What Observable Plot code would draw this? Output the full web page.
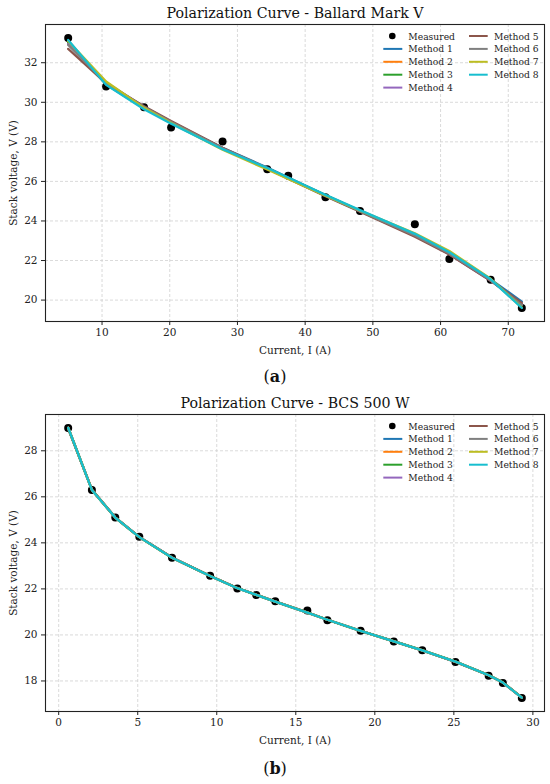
<!DOCTYPE html>
<html>
<head>
<meta charset="utf-8">
<script src="https://cdn.jsdelivr.net/npm/d3@7"></script>
<script src="https://cdn.jsdelivr.net/npm/@observablehq/plot@0.6"></script>
<style>
  body { margin: 0; background: white; }
  #wrap { position: relative; width: 550px; height: 784px; font-family: "DejaVu Serif", serif; }
  .chart { position: absolute; left: 0; }
  .cap { position: absolute; left: 0; width: 550px; text-align: center; font-family: "DejaVu Serif", serif; font-size: 16px; color: #111; }
  .legend { position: absolute; font-family: "DejaVu Serif", serif; font-size: 9px; color: #222; }
</style>
</head>
<body>
<div id="wrap"></div>
<script>
// ---------- Data ----------
const methodNames = ["Method 1","Method 2","Method 3","Method 4","Method 5","Method 6","Method 7","Method 8"];
const methodColors = ["#1f77b4","#ff7f0e","#2ca02c","#9467bd","#8c564b","#7f7f7f","#bcbd22","#17becf"];

// (a) Ballard Mark V
const currentA  = [5.0, 10.6, 16.2, 20.2, 27.8, 34.4, 37.5, 43.0, 48.1, 56.2, 61.3, 67.4, 72.0];
const measuredA = [33.25, 30.8, 29.75, 28.72, 28.02, 26.62, 26.28, 25.2, 24.5, 23.83, 22.08, 21.03, 19.6];
const method1A = [33.00, 30.90, 29.70, 29.00, 27.70, 26.70, 26.20, 25.30, 24.50, 23.30, 22.35, 21.05, 19.92];
const method2A = [33.05, 30.95, 29.72, 28.98, 27.66, 26.66, 26.17, 25.30, 24.52, 23.30, 22.38, 21.02, 19.75];
const method3A = [33.00, 30.92, 29.70, 28.97, 27.65, 26.66, 26.17, 25.31, 24.52, 23.31, 22.40, 21.03, 19.72];
const method4A = [32.95, 31.00, 29.78, 29.02, 27.68, 26.66, 26.15, 25.28, 24.50, 23.25, 22.32, 20.98, 19.80];
const method5A = [32.70, 30.95, 29.80, 29.05, 27.70, 26.65, 26.13, 25.25, 24.47, 23.20, 22.30, 20.98, 19.85];
const method6A = [32.90, 30.98, 29.76, 29.00, 27.67, 26.65, 26.15, 25.28, 24.50, 23.27, 22.35, 21.00, 19.75];
const method7A = [33.10, 31.05, 29.72, 28.95, 27.60, 26.60, 26.12, 25.28, 24.53, 23.38, 22.48, 21.08, 19.62];
const method8A = [33.15, 30.88, 29.65, 28.92, 27.63, 26.68, 26.20, 25.32, 24.55, 23.35, 22.42, 21.05, 19.60];
const xTicksA = [10, 20, 30, 40, 50, 60, 70];
const yTicksA = [20, 22, 24, 26, 28, 30, 32];

// (b) BCS 500 W
const currentB  = [0.6, 2.1, 3.58, 5.1, 7.17, 9.58, 11.3, 12.5, 13.7, 15.73, 17.0, 19.1, 21.2, 23.0, 25.1, 27.2, 28.1, 29.3];
const measuredB = [28.99, 26.3, 25.1, 24.26, 23.35, 22.57, 22.02, 21.73, 21.46, 21.06, 20.64, 20.18, 19.72, 19.33, 18.82, 18.23, 17.91, 17.26];
const method1B = [29.00, 26.30, 25.10, 24.25, 23.36, 22.56, 22.04, 21.74, 21.45, 20.97, 20.66, 20.18, 19.73, 19.33, 18.84, 18.26, 17.93, 17.28];
const method2B = [29.00, 26.31, 25.10, 24.25, 23.35, 22.56, 22.04, 21.74, 21.45, 20.97, 20.66, 20.18, 19.72, 19.33, 18.84, 18.25, 17.93, 17.28];
const method3B = [28.99, 26.30, 25.09, 24.25, 23.35, 22.56, 22.04, 21.74, 21.45, 20.98, 20.66, 20.18, 19.73, 19.34, 18.84, 18.26, 17.94, 17.28];
const method4B = [29.00, 26.30, 25.10, 24.26, 23.36, 22.56, 22.03, 21.74, 21.45, 20.97, 20.66, 20.18, 19.72, 19.33, 18.83, 18.25, 17.93, 17.27];
const method5B = [28.95, 26.32, 25.11, 24.26, 23.36, 22.57, 22.04, 21.75, 21.46, 20.98, 20.66, 20.18, 19.72, 19.33, 18.83, 18.25, 17.93, 17.29];
const method6B = [28.98, 26.31, 25.10, 24.25, 23.36, 22.56, 22.04, 21.74, 21.45, 20.97, 20.66, 20.18, 19.72, 19.33, 18.84, 18.25, 17.93, 17.28];
const method7B = [29.00, 26.30, 25.10, 24.25, 23.35, 22.56, 22.03, 21.74, 21.45, 20.97, 20.66, 20.18, 19.72, 19.33, 18.84, 18.25, 17.93, 17.28];
const method8B = [29.00, 26.30, 25.10, 24.25, 23.35, 22.56, 22.03, 21.74, 21.45, 20.97, 20.66, 20.18, 19.72, 19.33, 18.84, 18.25, 17.93, 17.28];
const xTicksB = [0, 5, 10, 15, 20, 25, 30];
const yTicksB = [18, 20, 22, 24, 26, 28];

// ---------- Build ----------
function pad(vals) {
  const [lo, hi] = d3.extent(vals); const m = (hi - lo) * 0.05; return [lo - m, hi + m];
}

function makeChart({title, xs, measured, methods, xTicks, yTicks}) {
  const pts = xs.map((x, i) => ({I: x, V: measured[i]}));
  const lines = [];
  methods.forEach((arr, k) => arr.forEach((v, i) => lines.push({I: xs[i], V: v, method: methodNames[k]})));
  return Plot.plot({
    width: 550, height: 360,
    marginTop: 24, marginBottom: 39, marginLeft: 45, marginRight: 6,
    style: {fontFamily: "DejaVu Serif, serif", fontSize: "10.5px", color: "#222", background: "white", overflow: "visible"},
    x: {domain: pad(xs)},
    y: {domain: pad(measured)},
    color: {domain: methodNames, range: methodColors},
    marks: [
      Plot.gridX(xTicks, {stroke: "#d0d0d0", strokeOpacity: 1, strokeDasharray: "3,2", strokeWidth: 0.8}),
      Plot.gridY(yTicks, {stroke: "#d0d0d0", strokeOpacity: 1, strokeDasharray: "3,2", strokeWidth: 0.8}),
      Plot.axisX(xTicks, {tickSize: 4, tickPadding: 3, fontSize: 10.5, label: "Current, I (A)", labelAnchor: "center", labelArrow: "none", labelOffset: 32}),
      Plot.axisY(yTicks, {tickSize: 4, tickPadding: 4, fontSize: 10.5, label: "Stack voltage, V (V)", labelAnchor: "center", labelArrow: "none", labelOffset: 36}),
      Plot.dot(pts, {x: "I", y: "V", r: 4, fill: "black"}),
      Plot.line(lines, {x: "I", y: "V", z: "method", stroke: "method", strokeWidth: 2.3}),
      Plot.frame({stroke: "#222", strokeWidth: 1.1}),
      Plot.text([title], {frameAnchor: "top", lineAnchor: "middle", dy: -11.5, fontSize: 14.2, fill: "#111"})
    ]
  });
}

function makeLegend(top) {
  const div = document.createElement("div");
  div.className = "legend";
  div.style.left = "380px";
  div.style.top = top + "px";
  const rowH = 12.9;
  const fs = 9.2;
  let html = `<svg width="170" height="75" style="position:absolute;left:0;top:0;overflow:visible">`;
  html += `<circle cx="12.3" cy="${rowH*0+6}" r="3.3" fill="black"/>`;
  html += `<text x="28.3" y="${rowH*0+6}" dominant-baseline="central" font-family="DejaVu Serif" font-size="${fs}" fill="#222">Measured</text>`;
  for (let k = 0; k < 4; k++) {
    const y = rowH*(k+1)+6;
    html += `<line x1="3.3" x2="22.3" y1="${y}" y2="${y}" stroke="${methodColors[k]}" stroke-width="2"/>`;
    html += `<text x="28.3" y="${y}" dominant-baseline="central" font-family="DejaVu Serif" font-size="${fs}" fill="#222">${methodNames[k]}</text>`;
  }
  for (let k = 4; k < 8; k++) {
    const y = rowH*(k-4)+6;
    html += `<line x1="89" x2="107.7" y1="${y}" y2="${y}" stroke="${methodColors[k]}" stroke-width="2"/>`;
    html += `<text x="114" y="${y}" dominant-baseline="central" font-family="DejaVu Serif" font-size="${fs}" fill="#222">${methodNames[k]}</text>`;
  }
  html += `</svg>`;
  div.innerHTML = html;
  return div;
}

const wrap = document.getElementById("wrap");

const chartA = makeChart({
  title: "Polarization Curve - Ballard Mark V",
  xs: currentA, measured: measuredA,
  methods: [method1A, method2A, method3A, method4A, method5A, method6A, method7A, method8A],
  xTicks: xTicksA, yTicks: yTicksA
});
chartA.classList.add("chart"); chartA.style.top = "0px";
wrap.appendChild(chartA);
wrap.appendChild(makeLegend(30));

const capA = document.createElement("div");
capA.className = "cap"; capA.style.top = "367px"; capA.innerHTML = "(<b>a</b>)";
wrap.appendChild(capA);

const chartB = makeChart({
  title: "Polarization Curve - BCS 500 W",
  xs: currentB, measured: measuredB,
  methods: [method1B, method2B, method3B, method4B, method5B, method6B, method7B, method8B],
  xTicks: xTicksB, yTicks: yTicksB
});
chartB.classList.add("chart"); chartB.style.top = "390px";
wrap.appendChild(chartB);
wrap.appendChild(makeLegend(420));

const capB = document.createElement("div");
capB.className = "cap"; capB.style.top = "759px"; capB.innerHTML = "(<b>b</b>)";
wrap.appendChild(capB);
</script>
</body>
</html>
